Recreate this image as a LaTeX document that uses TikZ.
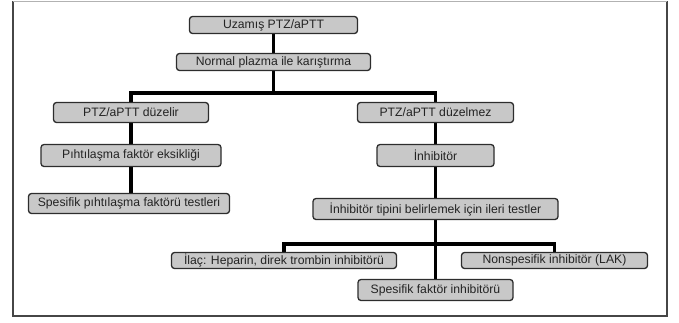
\documentclass[tikz,border=0pt]{standalone}
\usepackage{fontspec}
\setmainfont{Liberation Sans}
\usetikzlibrary{backgrounds}
\definecolor{boxfill}{RGB}{200,200,200}
\definecolor{boxline}{RGB}{45,45,45}
\definecolor{framecol}{RGB}{70,70,70}
\definecolor{txtcol}{RGB}{35,35,35}
\begin{document}
\begin{tikzpicture}[x=1pt,y=-1pt,
  box/.style={draw=boxline, line width=1.3pt, fill=boxfill, rounded corners=3pt,
    inner sep=0pt, outer sep=0pt, text=txtcol, font=\fontsize{12.2}{14}\selectfont},
  conn/.style={line width=3.8pt, black}]
\useasboundingbox (0,0) rectangle (679,322);
% frame
\draw[framecol, line width=1.2pt] (13,1) -- (13,316) -- (667,316) -- (667,1);
\draw[gray!60, line width=1pt] (13,1) -- (667,1);
% nodes
\node[box, minimum width=168pt, minimum height=17pt] (n1) at (273.5,25) {Uzamış PTZ/aPTT};
\node[box, minimum width=194pt, minimum height=17pt] (n2) at (273.5,62) {Normal plazma ile karıştırma};
\node[box, minimum width=155pt, minimum height=20pt] (n3) at (131,112.5) {PTZ/aPTT düzelir};
\node[box, minimum width=156pt, minimum height=20pt] (n4) at (435.5,112.5) {PTZ/aPTT düzelmez};
\node[box, minimum width=180pt, minimum height=22pt] (n5) at (131,155.5) {Pıhtılaşma faktör eksikliği};
\node[box, minimum width=201pt, minimum height=20pt] (n6) at (129,203.5) {Spesifik pıhtılaşma faktörü testleri};
\node[box, minimum width=117pt, minimum height=22pt] (n7) at (435.5,155.5) {İnhibitör};
\node[box, minimum width=245pt, minimum height=21pt] (n8) at (435.5,209) {İnhibitör tipini belirlemek için ileri testler};
\node[box, minimum width=225pt, minimum height=16pt] (n10) at (284,260.5) {İlaç: Heparin, direk trombin inhibitörü};
\node[box, minimum width=186pt, minimum height=16pt] (n11) at (554.5,260.5) {Nonspesifik inhibitör (LAK)};
\node[box, minimum width=155pt, minimum height=21pt] (n12) at (435.5,290) {Spesifik faktör inhibitörü};
% connectors
\coordinate (b1) at (273.5,93);
\coordinate (b2) at (435.5,244);
\begin{scope}[on background layer]
\draw[conn] (n1.south) -- (n2.north);
\draw[conn] (n2.south) -- (b1);
\draw[conn] (n3.north) |- (b1) -| (n4.north);
\draw[conn] (n3.south) -- (n5.north);
\draw[conn] (n5.south) -- (n5.south |- n6.north);
\draw[conn] (n4.south) -- (n7.north);
\draw[conn] (n7.south) -- (n8.north);
\draw[conn] (n10.north) |- (b2) -| (n11.north);
\draw[conn] (n8.south) -- (n12.north);
\end{scope}
\end{tikzpicture}
\end{document}
